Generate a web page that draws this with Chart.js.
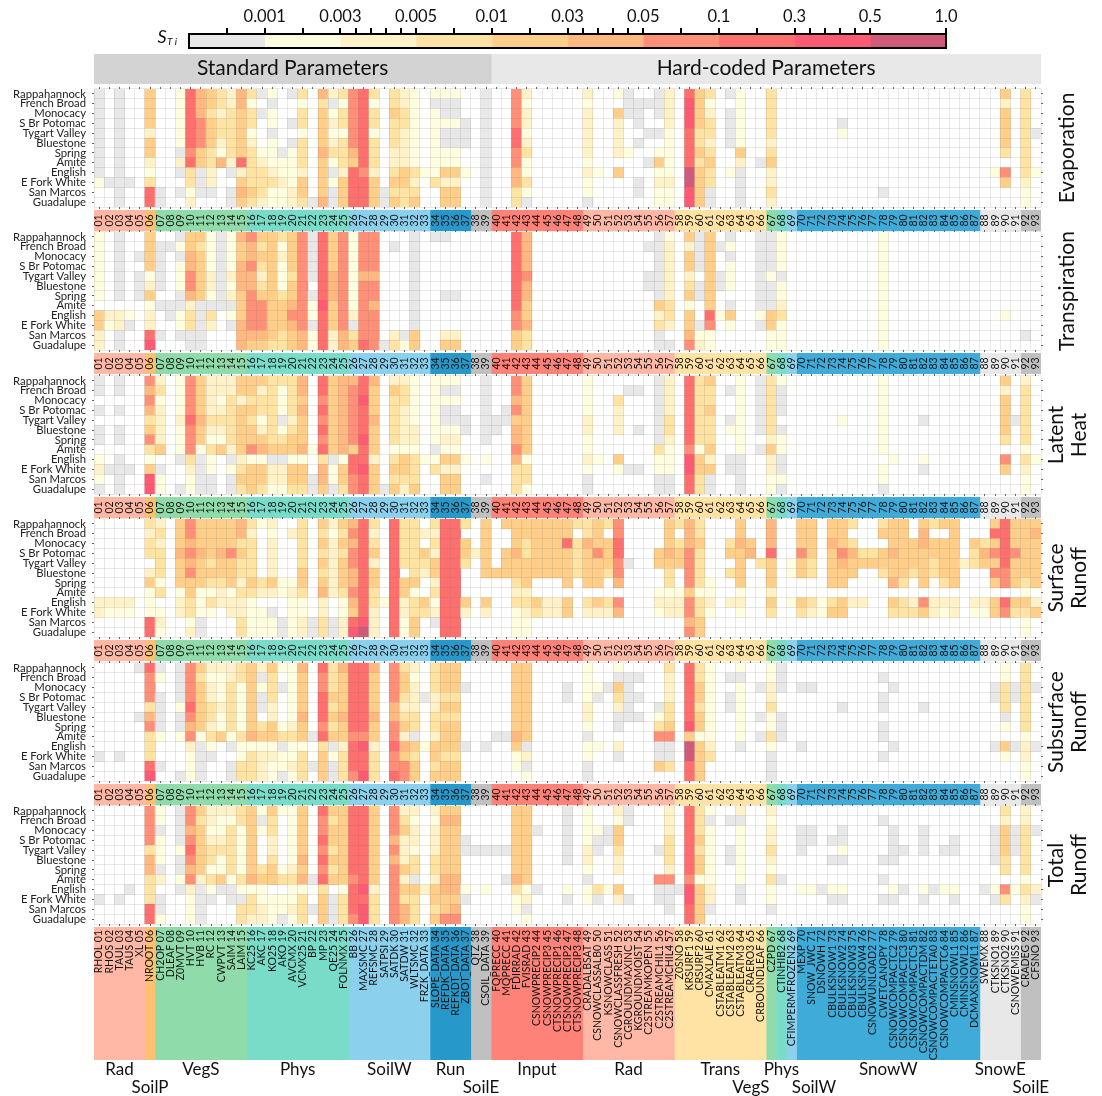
<!DOCTYPE html>
<html><head><meta charset="utf-8">
<script src="https://cdn.jsdelivr.net/npm/chart.js@4"></script>
<style>html,body{margin:0;padding:0;background:#fff;overflow:hidden}canvas{position:absolute;left:0}</style>
</head><body>
<script>
const FONT='Lato, "Open Sans", sans-serif';
const rowNames=["Rappahannock","French Broad","Monocacy","S Br Potomac","Tygart Valley","Bluestone","Spring","Amite","English","E Fork White","San Marcos","Guadalupe"];
const paramNames=["RHOL","RHOS","TAUL","TAUS","XL","NROOT","CH2OP","DLEAF","Z0MVT","HVT","HVB","RC","CWPVT","SAIM","LAIM","KC25","AKC","KO25","AKO","AVCMX","VCMX25","BP","MP","QE25","FOLNMX","BB","MAXSMC","REFSMC","SATPSI","SATDK","SATDW","WLTSMC","FRZK_DATA","SLOPE_DATA","REFDK_DATA","REFKDT_DATA","ZBOT_DATA","QTZ","CSOIL_DATA","FQPRECC","MQPRECC","FDIRRAD","FVISRAD","CSNOWPRECIP2","CSNOWPRECIP3","CTSNOWPRECIP1","CTSNOWPRECIP2","CTSNOWPRECIP3","CRADALBSAT","CSNOWCLASSALB0","KSNOWCLASS","CSNOWCLASSFRESH","CGROUNDMAXINC","KGROUNDMOIST","C2STREAMKOPEN","C2STREAMCHIL1","C2STREAMCHIL4","Z0SNO","KRSURF1","CRSURF2","CMAXLAIE","CSTABLEATM1","CSTABLEATM2","CSTABLEATM3","CRAERO3","CRBOUNDLEAF","CZPD","CTINHIB2","CFIMPERMFROZEN2","MEXP","SNOW_JWC","DSNOWH","CBULKSNOW1","CBULKSNOW2","CBULKSNOW3","CBULKSNOW4","CSNOWUNLOAD2","CWETCANOPY","CSNOWCOMPACTC2","CSNOWCOMPACTC3","CSNOWCOMPACTC5","CSNOWCOMPACTDM","CSNOWCOMPACTETA0","CSNOWCOMPACTC6","CMINSNOWL1","CMINSNOWL2","DCMAXSNOWL1","SWEMX","CTKSNO1","CTKSNO2","CSNOWEMISS","CRADEG","CFSNO"];
const columnNumbers=paramNames.map((_,i)=>String(i+1).padStart(2,'0'));
const groupNames=["Rad","SoilP","VegS","Phys","SoilW","Run","SoilE","Input","Rad","Trans","VegS","Phys","SoilW","SnowW","SnowE","SoilE"];
const groupSizes=[5,1,9,10,8,4,2,9,9,9,1,1,1,18,4,2];
const groupColors=["#ffb8a6","#ffc070","#8fdcaa","#78dcc8","#8bd0ec","#2698ca","#c0c0c0","#ff8278","#ffb8a6","#ffe3a4","#8fdcaa","#78dcc8","#8bd0ec","#3fabd8","#e8e8e8","#c0c0c0"];
const groupLabelShift=[0,0,0,0,0,0,0,0,0,0,-2,0,2.2,0,0,0];
const groupLabelTier=[0,1,0,0,0,0,1,0,0,0,1,0,1,0,0,1];
const binColors=["#ffffff","#e8e8e8","#fffde0","#fff2c8","#ffe3a3","#ffcf8a","#ffb880","#ff9077","#ff6f6e","#ff5a73","#cf5a7a"];
const colorbarLabels=["0.001","0.003","0.005","0.01","0.03","0.05","0.1","0.3","0.5","1.0"];
const colorbarMinor=[.5,1.5,2.2,2.4,2.6,2.8,3.5,4.5,5.2,5.4,5.6,5.8,6.5,7.5,8.2,8.4,8.6,8.8];
const headerNames=["Standard Parameters","Hard-coded Parameters"];
const headerSizes=[39,54];
const headerColors=["#d3d3d3","#e8e8e8"];

// Each entry: column number -> colour bin of the 12 basins, top to bottom (0 white ... a purple)
const evaporation={1:"111111111200",2:"000000000100",3:"111111111111",4:"000000000100",6:"555535532488",7:"000000000011",9:"222222131010",10:"888888784423",11:"666777551110",12:"554555443310",13:"443443260000",14:"334444431011",15:"665555583565",16:"424423444454",17:"101000234443",18:"212212223422",19:"000000122322",20:"100101222233",21:"424424443554",22:"000000000001",23:"645555655556",24:"312323421211",25:"424424443555",26:"777777658888",27:"888888887888",28:"424424443555",29:"000000000011",30:"445444334545",31:"334433335544",32:"222222224345",33:"000000002000",34:"212222222400",35:"211211225355",36:"211211225355",37:"000111002000",39:"111111111111",42:"777788776644",43:"323323422421",49:"323333323221",50:"000000002000",52:"205333305000",53:"111000200000",54:"011101000110",55:"010010010000",56:"111010252322",57:"333322222322",59:"89998888aa99",60:"555544545555",61:"423443454411",63:"101111002000",64:"222222531111",66:"000000010000",67:"444443453343",74:"000120000000",78:"000000000010",89:"000000002000",90:"535555407500",92:"444444444322",93:"000010002000"};
const transpiration={1:"222222205533",2:"000000003200",3:"111111103311",4:"000000002100",5:"001011100000",6:"555523523389",7:"011111010010",8:"010000011000",9:"121222112210",10:"556677634411",11:"545555511111",12:"222233214300",13:"111111110000",14:"222232312100",15:"655666555666",16:"766766777765",17:"545434577765",18:"555555555554",19:"423222455544",20:"555545567655",21:"777777777766",22:"111110122122",23:"888888898888",24:"555566655533",25:"777777777766",26:"222222223145",27:"777767777778",28:"777767767777",29:"000000000001",30:"010000000034",31:"000000000012",32:"111111111155",34:"100000000000",35:"100000100035",36:"000000100035",42:"888888887755",43:"666676655644",55:"010011000000",56:"111111153411",57:"233333344301",59:"535534525567",60:"111101100123",61:"555555558722",62:"010011002000",63:"121222015200",66:"111111112100",67:"111121115522",68:"222212234222",78:"222222222222",90:"000000002000",92:"000000000010"};
const latentHeat={1:"110101102321",2:"000000000100",3:"110101101111",4:"000000000100",6:"767645742599",7:"342333350122",9:"222232221001",10:"777787774322",11:"555565521111",12:"333343242211",13:"332343250000",14:"334444431211",15:"553555553454",16:"554545572555",17:"534423562554",18:"444444451332",19:"422212451332",20:"444434552554",21:"665655562554",22:"000000020011",23:"887878784665",24:"555555551221",25:"666666662554",26:"677777758877",27:"889888988988",28:"655565553555",29:"000000000001",30:"354444424545",31:"344333325543",32:"222223324445",33:"000000002000",34:"222222212400",35:"212112325355",36:"212112325355",37:"000011002000",39:"111111102010",40:"000011000000",41:"000110000000",42:"776756676444",43:"555555552442",49:"222233223211",50:"000000002000",52:"004333005200",53:"010000000100",54:"010001000100",56:"111111142211",57:"333344322211",59:"888888879988",60:"444444425544",61:"544544453511",63:"010012001100",64:"222222221111",66:"111111010000",67:"444444353322",68:"211101221121",74:"000020000000",78:"222222220221",79:"000000002000",82:"000010002100",90:"535555407500",91:"000010000000",92:"344444424322",93:"000000002000"};
const surfaceRunoff={1:"000000003300",2:"000000003200",3:"000000003200",4:"000000003200",6:"434403522288",7:"343444240232",9:"555655523300",10:"776767554423",11:"555655522211",12:"555545424200",13:"555655433000",14:"555755523300",15:"664544343344",16:"434444542222",17:"200000430222",18:"323333530122",19:"000000220011",20:"030000232222",21:"444445542233",22:"000000000011",23:"545454563344",24:"323333330011",25:"545455542233",26:"676776676589",27:"88888888889a",28:"434535544333",29:"000000002000",30:"888888888888",31:"444440553322",32:"444444524455",33:"030543005400",34:"434355342310",35:"888888888888",36:"888888888888",37:"405540005300",38:"000300000000",39:"555555005300",40:"000005000000",41:"500555000000",42:"555655434222",43:"554455534322",44:"555555005400",45:"555555003300",46:"555555003300",47:"558555505500",48:"404444000000",49:"446555504300",50:"555755505300",51:"405554004300",52:"778877607600",53:"000010000000",56:"000550023200",57:"555654423300",58:"404550023300",59:"666777757767",60:"445444424455",61:"000000223200",63:"004504003000",64:"556555523200",65:"005600000000",66:"000040000000",67:"666855535400",69:"000022002000",70:"555755005400",71:"555544004300",72:"000000002200",73:"556555504500",74:"555765505500",75:"404655003000",76:"000450003000",77:"000450000000",78:"450554000000",79:"555655605400",80:"555555404400",81:"005554003400",82:"566555507500",83:"405544003300",84:"505555403200",85:"555555503300",86:"000030000000",87:"005440003200",88:"004650003200",89:"585757505500",90:"888887708700",91:"555755505400",92:"555555425422",93:"565555503500"};
const subsurfaceRunoff={1:"000000000100",3:"000000000100",5:"100001000000",6:"877746744489",7:"120111120010",9:"111121120001",10:"777787673222",11:"545555521111",12:"323344342100",13:"322232250000",14:"334444421011",15:"442222242244",16:"555555562444",17:"312110452333",18:"544433552322",19:"201000241221",20:"222222342232",21:"655556552444",22:"000000010010",23:"877888784555",24:"444545451211",25:"655556553444",26:"888888878887",27:"888888879889",28:"655556553444",30:"777766778778",31:"455434536577",32:"323334415455",33:"000100002000",34:"444334435545",35:"555454555455",36:"555454555455",37:"001000001000",39:"000000001000",40:"000000010000",41:"000000010000",42:"555555565220",43:"555555551312",47:"001100000000",49:"222233212211",50:"002100002000",51:"001000000000",52:"215431103100",53:"011111000000",54:"010101000000",56:"000012471150",57:"433344571140",59:"88888895aa88",60:"445545525555",61:"222222223400",63:"010110000000",64:"212222221000",66:"001001010000",67:"223342242111",68:"111001110000",70:"001000001000",71:"001000000000",74:"000010000000",78:"010110110100",79:"001000001000",82:"000010000000",89:"001100001000",90:"224441205200",91:"001100001000",92:"444444423322",93:"001000001000"};
const totalRunoff={1:"000000000100",3:"000000000100",4:"000000001000",6:"777746644488",7:"221222130112",9:"111121121000",10:"776787673222",11:"545555531111",12:"332344242100",13:"322342251000",14:"324444421100",15:"442222242144",16:"555555562443",17:"212000452233",18:"544334550222",19:"200000240221",20:"222222342232",21:"555556562444",22:"000000010010",23:"877878784555",24:"545545450111",25:"555555552444",26:"888888878887",27:"888888889899",28:"555555553444",30:"777676777777",31:"345333535466",32:"323324415444",33:"000000003000",34:"323334435545",35:"565555566557",36:"565555566567",37:"000110002100",38:"000010000000",39:"000010002000",40:"000010000000",41:"000010010000",42:"555555564220",43:"555555552312",44:"001000001000",47:"111111002100",49:"222233212200",50:"002110004100",51:"001100002000",52:"325543305300",53:"110000000100",56:"000010071100",57:"333444371110",58:"000000001000",59:"888888879988",60:"444545525555",61:"212222223310",63:"010011000000",64:"312222221100",67:"323343242210",68:"000000010000",70:"001110002000",71:"001100002000",72:"000000001000",73:"000101002100",74:"001121002100",78:"010001010100",79:"001111002100",80:"000010001000",82:"001110002100",83:"000000001000",84:"000010002000",85:"000110002100",88:"000000001000",89:"001111002100",90:"435554407400",91:"001110002000",92:"334444424322",93:"001000003100"};

const panels=[
 {cols:evaporation,title:["Evaporation"],top:89,strip:210},
 {cols:transpiration,title:["Transpiration"],top:232,strip:353},
 {cols:latentHeat,title:["Latent","Heat"],top:376,strip:497},
 {cols:surfaceRunoff,title:["Surface","Runoff"],top:519,strip:640},
 {cols:subsurfaceRunoff,title:["Subsurface","Runoff"],top:663,strip:784},
 {cols:totalRunoff,title:["Total","Runoff"],top:806,strip:null}
];
const W=1102,AL=94,AR=1041,PH=118;

Chart.defaults.animation=false;
Chart.defaults.responsive=false;
Chart.defaults.font.family=FONT;
Chart.defaults.plugins.legend.display=false;
Chart.defaults.plugins.tooltip.enabled=false;

const textPlugin={id:'marks',afterDraw(chart,_,opts){
  const items=opts.items?opts.items(chart):[];const c=chart.ctx;
  items.forEach(t=>{c.save();c.translate(t.x,t.y);if(t.rot)c.rotate(t.rot);
    c.font=t.font;c.fillStyle=t.color||'#111';c.textAlign=t.align||'center';c.textBaseline=t.base||'middle';
    c.fillText(t.text,0,0);c.restore();});
  if(opts.box){const a=chart.chartArea;c.save();c.lineWidth=2;c.strokeStyle='#000';c.strokeRect(a.left,a.top,a.right-a.left,a.bottom-a.top);c.restore();}
}};
Chart.register(textPlugin);

function mk(top,h,cfg){const cv=document.createElement('canvas');cv.width=W;cv.height=h;cv.style.top=top+'px';cv.style.width=W+'px';cv.style.height=h+'px';document.body.appendChild(cv);return new Chart(cv,cfg);}

function band(top,h,sizes,colors,items,padBottom){
  return mk(top,h,{type:'bar',
    data:{labels:['band'],datasets:sizes.map((s,i)=>({data:[s],backgroundColor:colors[i],borderWidth:0,barPercentage:1,categoryPercentage:1}))},
    options:{indexAxis:'y',layout:{padding:{left:AL,right:W-AR,top:0,bottom:padBottom||0}},
      scales:{x:{type:'linear',min:0,max:93,stacked:true,display:false},y:{stacked:true,display:false}},
      plugins:{marks:{items}}}});
}

mk(0,50,{type:'bar',
  data:{labels:['S'],datasets:colorbarLabels.map((_,i)=>({data:[1],backgroundColor:i==0?binColors[1]:binColors[i+1],borderWidth:0,barPercentage:1,categoryPercentage:1}))},
  options:{indexAxis:'y',layout:{padding:{left:189,right:W-946,bottom:2}},
    scales:{y:{stacked:true,display:false},
      x:{type:'linear',position:'top',min:0,max:10,stacked:true,
        afterBuildTicks(s){const v=[];for(let i=1;i<=10;i++)v.push(i);s.ticks=v.concat(colorbarMinor).sort((a,b)=>a-b).map(value=>({value}));},
        afterFit(s){s.height=34;},
        border:{display:false},
        grid:{drawOnChartArea:false,color:'#000',lineWidth:2,tickLength:6},
        ticks:{autoSkip:false,maxRotation:0,padding:1,color:'#111',font:{size:16.5,family:FONT},
          callback:v=>Number.isInteger(v)?colorbarLabels[v-1]:''}}},
    plugins:{marks:{box:true,items:()=>[
      {text:'S',x:162,y:37,font:'italic 18px '+FONT},
      {text:'T i',x:172,y:42,font:'italic 10px '+FONT}]}}}});

band(54,30,headerSizes,headerColors,ch=>{const x=ch.scales.x,y=(ch.chartArea.top+ch.chartArea.bottom)/2-1;let s=0;
  return headerNames.map((t,i)=>{const c=s+headerSizes[i]/2;s+=headerSizes[i];return{text:t,x:x.getPixelForValue(c),y,font:'21px '+FONT,color:'#111'};});});

const tickScale=(pos,axis,extra)=>Object.assign({type:'category',position:pos,axis,offset:true,
  border:{display:false},grid:{drawOnChartArea:false,color:'#666',lineWidth:1,tickLength:2,offset:false},ticks:{display:false,autoSkip:false}},extra||{});
panels.forEach(p=>{
  const cells=[];
  Object.keys(p.cols).forEach(k=>{const col=+k-1,s=p.cols[k];
    for(let r=0;r<12;r++){const lv=parseInt(s[r],16);if(lv>0)cells.push({x:columnNumbers[col],y:[r,r+1],bin:lv});}});
  const gridCol='rgba(110,110,110,0.16)';
  mk(p.top-3,PH+6,{type:'bar',
    data:{labels:columnNumbers,datasets:[{data:cells,xAxisID:'x',yAxisID:'yv',grouped:false,barPercentage:1,categoryPercentage:1,borderWidth:0,
      backgroundColor:c=>binColors[c.raw?c.raw.bin:0]}]},
    options:{
      scales:{
        x:{type:'category',position:'bottom',axis:'x',offset:true,border:{display:false},afterFit(s){s.height=0;},
           grid:{offset:true,color:gridCol,z:1,drawTicks:false},ticks:{display:false,autoSkip:false}},
        xt:tickScale('top','x',{afterFit(s){s.height=3;}}),
        xb:tickScale('bottom','x',{afterFit(s){s.height=3;}}),
        yv:{type:'linear',axis:'y',min:0,max:12,reverse:true,display:false},
        y:tickScale('left','y',{labels:rowNames,afterFit(s){s.width=AL;s.paddingTop=0;s.paddingBottom=0;},
           ticks:{display:true,autoSkip:false,padding:6,color:'#222',font:{size:11.3,family:FONT}}}),
        yg:{type:'category',axis:'y',position:'left',labels:rowNames,offset:true,border:{display:false},afterFit(s){s.width=0;s.paddingTop=0;s.paddingBottom=0;},
           grid:{offset:true,color:gridCol,z:1,drawTicks:false},ticks:{display:false,autoSkip:false}},
        yr:tickScale('right','y',{labels:rowNames,afterFit(s){s.width=W-AR;s.paddingTop=0;s.paddingBottom=0;}})
      },
      plugins:{marks:{items:ch=>{const a=ch.chartArea,cy=(a.top+a.bottom)/2,n=p.title.length;
        return p.title.map((t,i)=>({text:t,x:n==1?1067:(i==0?1056:1079),y:cy,rot:-Math.PI/2,font:'21px '+FONT,color:'#111'}));}}}
    }});
  if(p.strip!==null){
    band(p.strip,21,groupSizes,groupColors,ch=>{const x=ch.scales.x,y=(ch.chartArea.top+ch.chartArea.bottom)/2;
      return columnNumbers.map((t,i)=>({text:t,x:x.getPixelForValue(i+.5),y,rot:-Math.PI/2,font:'10.5px '+FONT,color:'#111'}));});
  }
});

band(927,169,groupSizes,groupColors,ch=>{const x=ch.scales.x,top=ch.chartArea.top,out=[];
  paramNames.forEach((n,i)=>out.push({text:n+' '+columnNumbers[i],x:x.getPixelForValue(i+.5),y:top+3,rot:-Math.PI/2,align:'right',font:'10.5px '+FONT,color:'#111'}));
  let s=0;groupNames.forEach((g,i)=>{const c=s+groupSizes[i]/2+groupLabelShift[i];s+=groupSizes[i];
    out.push({text:g,x:x.getPixelForValue(c),y:groupLabelTier[i]?1088-927:1070-927,font:'17px '+FONT,color:'#111'});});
  return out;},36);
</script>
</body></html>
